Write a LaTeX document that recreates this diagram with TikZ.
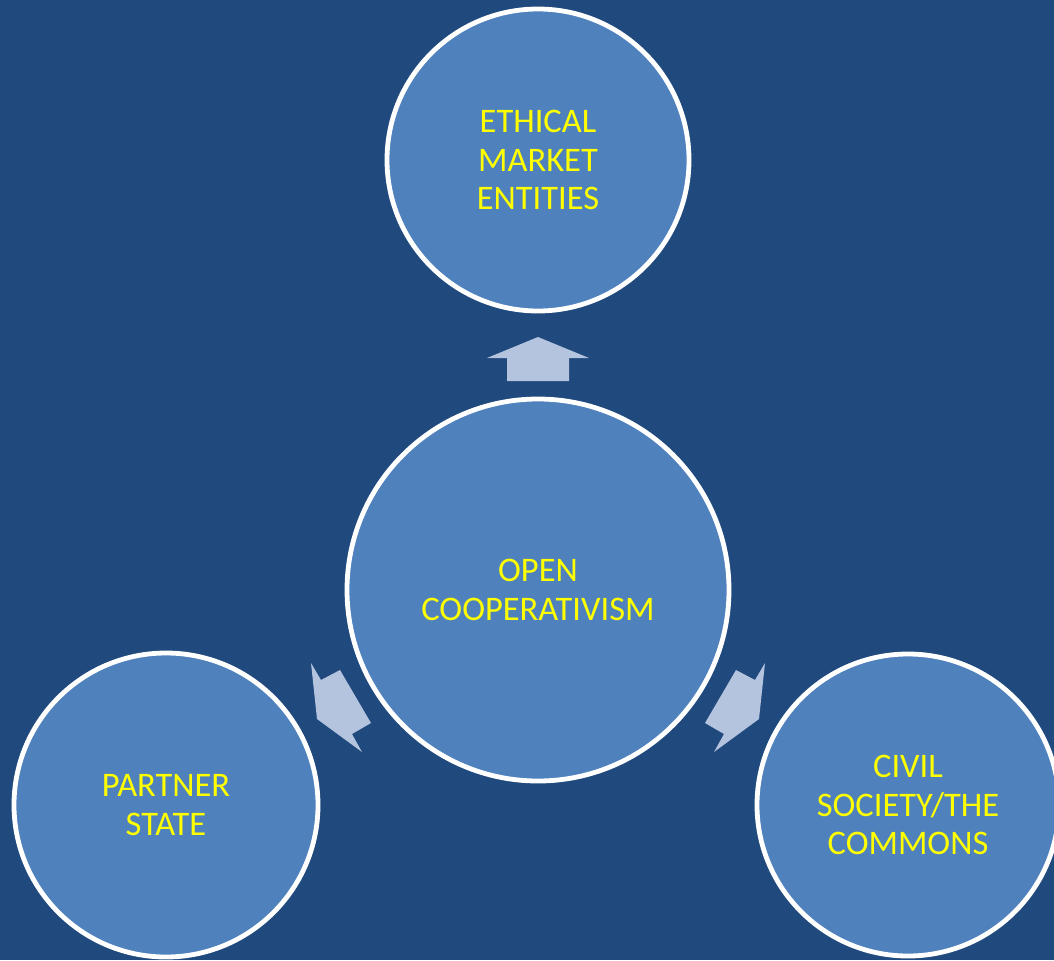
\documentclass[tikz,border=0pt]{standalone}
\usepackage{fontspec}
\setmainfont{Carlito}
\usetikzlibrary{positioning}

\definecolor{bgblue}{RGB}{32,73,125}
\definecolor{bubblefill}{RGB}{79,129,189}
\definecolor{arrowfill}{RGB}{180,196,222}
\definecolor{labelyellow}{RGB}{255,255,0}

\begin{document}
\begin{tikzpicture}[x=0.25mm, y=-0.25mm,
  bubble/.style={circle, draw=white, line width=1.2mm, fill=bubblefill, inner sep=0pt,
    text=labelyellow, align=center, font=\fontsize{24.5}{27.5}\selectfont},
  arrowshape/.style={fill=arrowfill, draw=none}]

  \fill [bgblue] (0,0) rectangle (1054,960);
  \useasboundingbox (0,0) rectangle (1054,960);

  \node [bubble, minimum size=75.5mm] (market) at (538,160) {ETHICAL\\MARKET\\ENTITIES};
  \node [bubble, minimum size=95.5mm] (coop) at (538,590) {OPEN\\COOPERATIVISM};
  \node [bubble, minimum size=76mm] (state) at (166,805) {PARTNER\\STATE};
  \node [bubble, minimum size=75.5mm] (commons) at (908,805) {CIVIL\\SOCIETY/THE\\COMMONS};

  % arrows between the bubbles
  \fill [arrowshape] (538,337) -- (589,358) -- (569,358) -- (569,381) -- (507,381) -- (507,358) -- (487,358) -- cycle;
  \fill [arrowshape] (311,663) -- (321,680) -- (340,670) -- (371,723) -- (352,734) -- (362,752) -- (317,719) -- cycle;
  \fill [arrowshape] (765,663) -- (755,680) -- (736,670) -- (705,723) -- (724,734) -- (714,752) -- (759,719) -- cycle;

\end{tikzpicture}
\end{document}
